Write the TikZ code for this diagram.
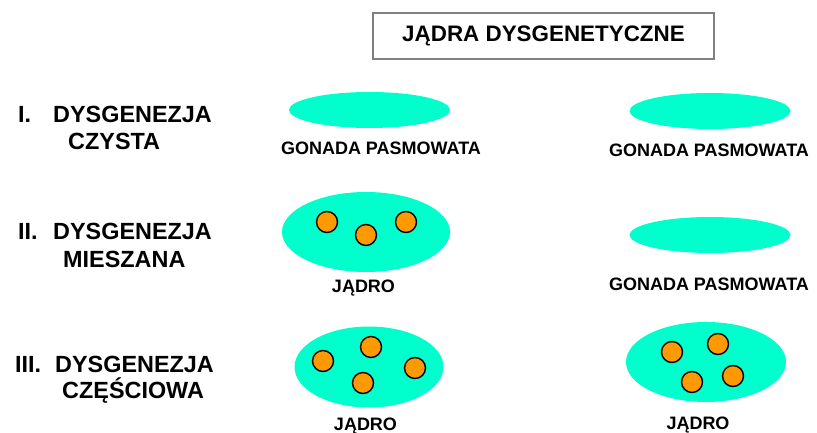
\documentclass[tikz,border=0pt]{standalone}
\usepackage{fontspec}
\setmainfont{Liberation Sans}
\usetikzlibrary{shapes.geometric}
\definecolor{gonadcol}{RGB}{0,255,204}
\definecolor{cellcol}{RGB}{255,153,0}
\definecolor{framecol}{RGB}{128,128,128}
\pgfmathsetmacro{\mylx}{709}
\pgfmathsetmacro{\myrx}{710}

\begin{document}
\begin{tikzpicture}[x=1pt, y=-1pt,
    streak/.style={ellipse, fill=gonadcol, inner sep=0pt, minimum width=161pt, minimum height=36pt},
    testis/.style={ellipse, fill=gonadcol, inner sep=0pt},
    cell/.style={circle, draw=black, line width=1.4pt, fill=cellcol, inner sep=0pt, minimum size=21pt},
    rowlab/.style={font=\fontsize{23.4}{27}\selectfont\bfseries, inner sep=0pt, anchor=base west},
    sublab/.style={font=\fontsize{18}{21}\selectfont\bfseries, inner sep=0pt, anchor=base}]

\useasboundingbox (0,0) rectangle (817,433);

\node[draw=framecol, line width=1.5pt, minimum width=341pt, minimum height=46pt] (title) at (543.5,36) {};
\node[font=\fontsize{22.4}{26}\selectfont\bfseries, inner sep=0pt, anchor=base] (titletext) at (543.5,42) {JĄDRA DYSGENETYCZNE};

\node[rowlab] (num1) at (18,123) {I.};
\node[rowlab] (kind1) at (53,123) {DYSGENEZJA};
\node[rowlab] (type1) at (68,150) {CZYSTA};
\node[rowlab] (num2) at (18,240) {II.};
\node[rowlab] (kind2) at (53,240) {DYSGENEZJA};
\node[rowlab] (type2) at (63,267) {MIESZANA};
\node[rowlab] (num3) at (15,372) {III.};
\node[rowlab] (kind3) at (55,372) {DYSGENEZJA};
\node[rowlab] (type3) at (62,398) {CZĘŚCIOWA};

% czysta
\node[streak] (g1l) at (369.5,110) {};
\node[sublab] (l1l) at (381,155) {GONADA PASMOWATA};
\node[streak] (g1r) at (710,111) {};
\node[sublab] (l1r) at (\mylx,157) {GONADA PASMOWATA};

% mieszana
\node[testis, minimum width=168pt, minimum height=80pt] (g2l) at (366,232) {};
\node[cell] (c2a) at (327,222) {};
\node[cell] (c2b) at (366,235) {};
\node[cell] (c2c) at (406,222) {};
\node[sublab] (l2l) at (363.5,292) {JĄDRO};
\node[streak] (g2r) at (\myrx,235) {};
\node[sublab] (l2r) at (\mylx,290) {GONADA PASMOWATA};

% czesciowa
\node[testis, minimum width=149pt, minimum height=81pt] (g3l) at (369,367) {};
\node[cell] (c3a) at (323,361) {};
\node[cell] (c3b) at (371,347) {};
\node[cell] (c3c) at (415,368) {};
\node[cell] (c3d) at (363,383) {};
\node[sublab] (l3l) at (365.5,430) {JĄDRO};
\node[testis, minimum width=160pt, minimum height=80pt] (g3r) at (706,362) {};
\node[cell] (c3e) at (672,352) {};
\node[cell] (c3f) at (718,344) {};
\node[cell] (c3g) at (733,376) {};
\node[cell] (c3h) at (692,382) {};
\node[sublab] (l3r) at (698,429) {JĄDRO};
\end{tikzpicture}
\end{document}
